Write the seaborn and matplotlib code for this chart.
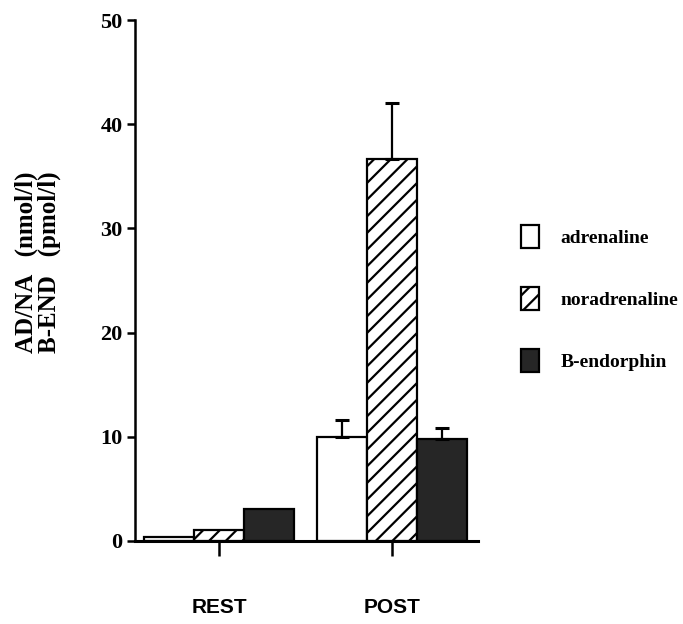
import matplotlib
matplotlib.use("Agg")
import matplotlib.pyplot as plt
import seaborn as sns
import pandas as pd
import numpy as np

phases = ["REST", "POST"]
hormones = ["adrenaline", "noradrenaline", "B-endorphin"]
rest_values = [0.4, 1.1, 3.1]
post_values = [10.0, 36.7, 9.8]
rest_err = [0.0, 0.0, 0.0]
post_err = [1.6, 5.3, 1.0]
yticks = [0, 10, 20, 30, 40, 50]

df = pd.DataFrame({
    "phase": [p for p in phases for _ in hormones],
    "hormone": hormones * 2,
    "value": rest_values + post_values,
    "err": rest_err + post_err,
})

sns.set_theme(style="white")
plt.rcParams["font.family"] = ["Liberation Serif", "DejaVu Serif"]
plt.rcParams["hatch.linewidth"] = 1.6
plt.rcParams["text.color"] = "black"

fig = plt.figure(figsize=(6.83, 6.24), dpi=100)
ax = fig.add_axes([135/683, 1-541/624, (478-135)/683, (541-20)/624])

sns.barplot(data=df, x="phase", y="value", hue="hormone", order=phases,
            hue_order=hormones, palette=["white", "white", "#262626"],
            width=0.87, edgecolor="black", linewidth=1.6, saturation=1,
            errorbar=None, legend=False, ax=ax)

# hatch noradrenaline
for bar in ax.containers[1]:
    bar.set_hatch("//")

# error bars (upward only)
for ci, h in enumerate(hormones):
    for bar, ph in zip(ax.containers[ci], phases):
        row = df[(df.phase == ph) & (df.hormone == h)].iloc[0]
        if row.err > 0:
            xc = bar.get_x() + bar.get_width() / 2
            ax.errorbar([xc], [row.value], yerr=[[0], [row.err]], fmt="none",
                        ecolor="black", elinewidth=1.6, capsize=5, capthick=2.2,
                        zorder=1)

ax.set_xlim(-0.486, 1.497)
ax.set_ylim(0, 50)
ax.set_yticks(yticks)
ax.set_yticklabels([str(t) for t in yticks], fontsize=16, fontweight="bold")
ax.set_xlabel("")
ax.set_ylabel("")
for lab in ax.get_xticklabels():
    lab.set_fontfamily(["Liberation Sans", "DejaVu Sans"])
    lab.set_fontweight("bold")
    lab.set_fontsize(15)

sns.despine(ax=ax)
ax.spines["left"].set_linewidth(1.8)
ax.spines["bottom"].set_linewidth(2.2)
ax.spines["left"].set_color("black")
ax.spines["bottom"].set_color("black")
ax.tick_params(axis="y", direction="out", length=6, width=1.8, pad=3, colors="black", left=True)
ax.tick_params(axis="x", direction="out", length=11, width=1.8, pad=30, colors="black", bottom=True)

fig.text(38/683, 1-262/624, "AD/NA   (nmol/l)\nB-END   (pmol/l)", rotation=90,
         ha="center", va="center", fontsize=18, fontweight="bold",
         linespacing=0.95, color="black")

leg = fig.legend(ax.containers, hormones, loc="upper left",
                 bbox_to_anchor=(521/683, 1-225/624), frameon=False,
                 borderpad=0, borderaxespad=0, handlelength=0.95,
                 handleheight=1.45, labelspacing=2.0, handletextpad=1.1,
                 labelcolor="black",
                 prop={"weight": "bold", "size": 14})

fig.savefig("out.png", dpi=100)
